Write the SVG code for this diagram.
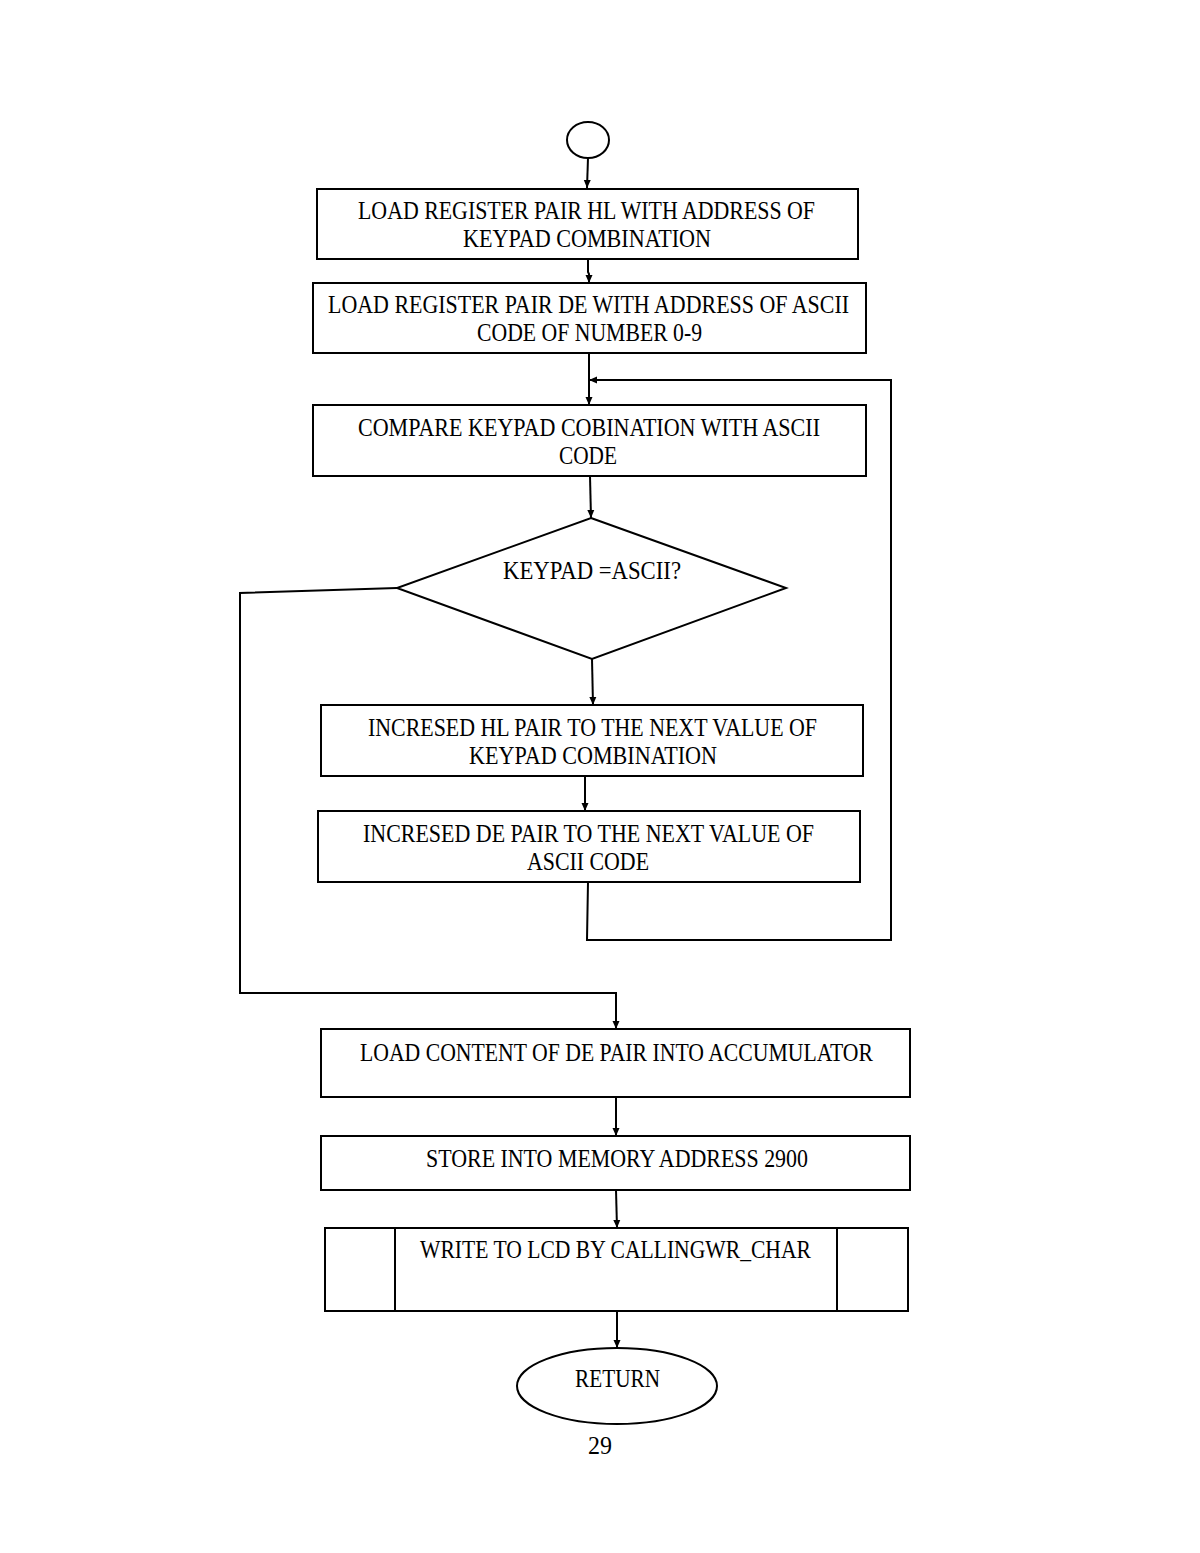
<svg xmlns="http://www.w3.org/2000/svg" width="1200" height="1553" viewBox="0 0 1200 1553">
<defs>
<marker id="ah" markerWidth="10" markerHeight="10" refX="8" refY="4" orient="auto" markerUnits="userSpaceOnUse">
<path d="M0,0.5 L8,4 L0,7.5 Z" fill="#000"/>
</marker>
<style>
.n{fill:#fff;stroke:#000;stroke-width:2}
.c{fill:none;stroke:#000;stroke-width:2}
.a{fill:none;stroke:#000;stroke-width:2;marker-end:url(#ah)}
.t{font-family:'Liberation Serif','DejaVu Serif',serif;font-size:25px;fill:#000}
</style>
</defs>
<rect width="1200" height="1553" fill="#fff"/>
<g id="connectors">
<path class="a" d="M588,158 L587,188"/>
<path class="a" d="M588,260 L588,272 L589,274 L589,283"/>
<path class="a" d="M589,353 L589,405"/>
<path class="a" d="M891,941 L891,380 L589,380"/>
<path class="a" d="M590,476 L591,518"/>
<path class="a" d="M397,588 L240,593 L240,993 L616,993 L616,1029"/>
<path class="a" d="M592,659 L593,705"/>
<path class="a" d="M585,776 L585,811"/>
<path class="c" d="M588,882 L587,940 L891,940"/>
<path class="a" d="M616,1097 L616,1136"/>
<path class="a" d="M616,1190 L617,1228"/>
<path class="a" d="M617,1311 L617,1348"/>
</g>
<g class="t" font-family="Liberation Serif, DejaVu Serif, serif">
<g id="start">
<ellipse class="n" cx="588" cy="140" rx="21" ry="18"/>
</g>
<g id="box1">
<rect class="n" x="317" y="189" width="541" height="70"/>
<text x="358" y="219" textLength="457" lengthAdjust="spacingAndGlyphs">LOAD REGISTER PAIR HL WITH ADDRESS OF</text>
<text x="463" y="247" textLength="248" lengthAdjust="spacingAndGlyphs">KEYPAD COMBINATION</text>
</g>
<g id="box2">
<rect class="n" x="313" y="283" width="553" height="70"/>
<text x="328" y="313" textLength="521" lengthAdjust="spacingAndGlyphs">LOAD REGISTER PAIR DE WITH ADDRESS OF ASCII</text>
<text x="477" y="341" textLength="225" lengthAdjust="spacingAndGlyphs">CODE OF NUMBER 0-9</text>
</g>
<g id="box3">
<rect class="n" x="313" y="405" width="553" height="71"/>
<text x="358" y="436" textLength="462" lengthAdjust="spacingAndGlyphs">COMPARE KEYPAD COBINATION WITH ASCII</text>
<text x="559" y="464" textLength="58" lengthAdjust="spacingAndGlyphs">CODE</text>
</g>
<g id="decision">
<polygon class="n" points="591,518 786,588 592,659 397,588"/>
<text x="503" y="579" textLength="178" lengthAdjust="spacingAndGlyphs">KEYPAD =ASCII?</text>
</g>
<g id="box4">
<rect class="n" x="321" y="705" width="542" height="71"/>
<text x="368" y="736" textLength="449" lengthAdjust="spacingAndGlyphs">INCRESED HL PAIR TO THE NEXT VALUE OF</text>
<text x="469" y="764" textLength="248" lengthAdjust="spacingAndGlyphs">KEYPAD COMBINATION</text>
</g>
<g id="box5">
<rect class="n" x="318" y="811" width="542" height="71"/>
<text x="363" y="842" textLength="451" lengthAdjust="spacingAndGlyphs">INCRESED DE PAIR TO THE NEXT VALUE OF</text>
<text x="527" y="870" textLength="122" lengthAdjust="spacingAndGlyphs">ASCII CODE</text>
</g>
<g id="box6">
<rect class="n" x="321" y="1029" width="589" height="68"/>
<text x="360" y="1061" textLength="513" lengthAdjust="spacingAndGlyphs">LOAD  CONTENT OF DE PAIR INTO ACCUMULATOR</text>
</g>
<g id="box7">
<rect class="n" x="321" y="1136" width="589" height="54"/>
<text x="426" y="1167" textLength="382" lengthAdjust="spacingAndGlyphs">STORE INTO MEMORY  ADDRESS 2900</text>
</g>
<g id="box8">
<rect class="n" x="325" y="1228" width="583" height="83"/>
<line class="c" x1="395" y1="1228" x2="395" y2="1311"/>
<line class="c" x1="837" y1="1228" x2="837" y2="1311"/>
<text x="420" y="1258" textLength="391" lengthAdjust="spacingAndGlyphs">WRITE TO LCD BY  CALLINGWR_CHAR</text>
</g>
<g id="end">
<ellipse class="n" cx="617" cy="1386" rx="100" ry="38"/>
<text x="575" y="1387" textLength="85" lengthAdjust="spacingAndGlyphs">RETURN</text>
</g>
<text x="588" y="1454" textLength="24" lengthAdjust="spacingAndGlyphs">29</text>
</g>
</svg>
